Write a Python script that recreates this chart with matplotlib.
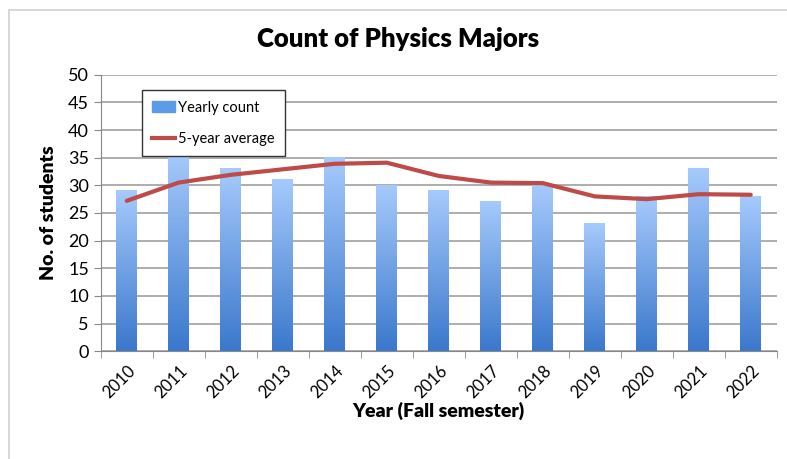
import numpy as np
import matplotlib
matplotlib.use('Agg')
import matplotlib.pyplot as plt
from matplotlib.colors import LinearSegmentedColormap
from matplotlib.patches import Rectangle
from matplotlib.lines import Line2D

plt.rcParams['font.family'] = ['Lato', 'DejaVu Sans']

years = ['2010', '2011', '2012', '2013', '2014', '2015', '2016',
         '2017', '2018', '2019', '2020', '2021', '2022']
counts = [29, 36, 33, 31, 35, 30, 29, 27, 30, 23, 28, 33, 28]
avg5 = [27.2, 30.5, 31.9, 32.9, 33.9, 34.1, 31.7, 30.5, 30.4, 28.0, 27.5, 28.4, 28.3]

fig = plt.figure(figsize=(7.87, 4.59), dpi=100)
ax = fig.add_axes([0.128, 0.235, 0.859, 0.602])

# chart border like the spreadsheet frame
fig.patches.append(Rectangle((0.011, -0.02), 1.0, 0.998, transform=fig.transFigure,
                             fill=False, edgecolor='#d0d0d0', lw=1.2))

x = np.arange(len(years))
bw = 0.4
cmap = LinearSegmentedColormap.from_list('bl', ['#3a78cc', '#a6cafc'])
grad = np.linspace(0, 1, 256).reshape(-1, 1)
bars = ax.bar(x, counts, width=bw, color='none', zorder=2)
for b in bars:
    x0, w, h = b.get_x(), b.get_width(), b.get_height()
    ax.imshow(grad, extent=[x0, x0 + w, 0, h], origin='lower', aspect='auto',
              cmap=cmap, zorder=2)

ax.plot(x, avg5, color='#be4b48', lw=3, zorder=3, solid_capstyle='round')

ax.set_xlim(-0.5, len(years) - 0.5)
ax.set_ylim(0, 50)
ax.set_yticks(range(0, 51, 5))
ax.set_xticks(x)
ax.set_xticklabels(years, rotation=45, fontsize=12, ha='right',
                   rotation_mode='anchor')
ax.set_xticks(np.arange(-0.5, len(years), 1), minor=True)
ax.tick_params(axis='x', which='major', length=0, pad=8)
ax.tick_params(axis='x', which='minor', length=5, color='#888888')
ax.tick_params(axis='y', labelsize=13, length=5, color='#888888')
ax.grid(axis='y', color='#a0a0a0', lw=1.2, zorder=0)
ax.set_axisbelow(True)
for s in ['top', 'right']:
    ax.spines[s].set_visible(False)
for s in ['left', 'bottom']:
    ax.spines[s].set_color('#888888')

ax.set_title('Count of Physics Majors', fontsize=18.5, fontweight='heavy', pad=20,
             x=0.44)
ax.set_ylabel('No. of students', fontsize=14, fontweight='heavy', labelpad=8)
ax.set_xlabel('Year (Fall semester)', fontsize=14, fontweight='heavy', labelpad=1)

handles = [Rectangle((0, 0), 1, 1, color='#5b9be8'),
           Line2D([], [], color='#be4b48', lw=3)]
leg = ax.legend(handles, ['Yearly count', '5-year average'], loc='upper left',
                bbox_to_anchor=(0.05, 0.97), fontsize=10.5, fancybox=False,
                framealpha=1, edgecolor='#333333', handlelength=1.6,
                handletextpad=0.2, borderpad=0.7, labelspacing=1.2)
leg.get_frame().set_linewidth(1)

fig.savefig('out.png', dpi=100)
